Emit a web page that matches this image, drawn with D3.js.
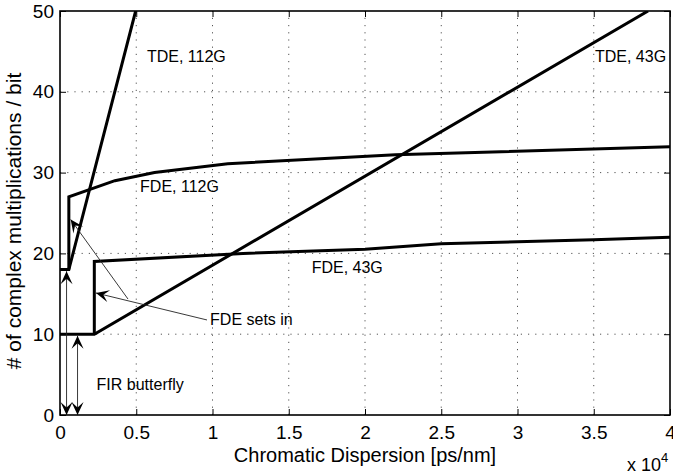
<!DOCTYPE html>
<html>
<head>
<meta charset="utf-8">
<script src="https://cdn.jsdelivr.net/npm/d3@7"></script>
<style>
  body { margin: 0; background: #fff; }
  svg { display: block; font-family: "Liberation Sans", Arial, Helvetica, sans-serif; }
</style>
</head>
<body>
<svg id="chart" width="673" height="476"></svg>
<script>
// Chromatic dispersion (ps/nm) against complex multiplications per bit
const tde112CD   = [0, 580, 4960];
const tde112Mult = [18, 18, 50];

const fde112CD   = [580, 580, 3600, 6200, 11000, 22000, 40000];
const fde112Mult = [18, 27, 29, 30, 31.1, 32.2, 33.2];

const tde43CD    = [0, 2250, 38560];
const tde43Mult  = [10, 10, 50];

const fde43CD    = [2250, 2250, 12000, 20000, 25000, 35000, 40000];
const fde43Mult  = [10, 19, 20, 20.5, 21.2, 21.7, 22];

// Axis ticks
const xTicks = [0, 5000, 10000, 15000, 20000, 25000, 30000, 35000, 40000];
const xTickLabels = ["0", "0.5", "1", "1.5", "2", "2.5", "3", "3.5", "4"];
const yTicks = [0, 10, 20, 30, 40, 50];

// Curve names and where they sit (data units: CD, multiplications)
const labelText = ["TDE, 112G", "TDE, 43G", "FDE, 112G", "FDE, 43G", "FDE sets in", "FIR butterfly"];
const labelCD   = [5700, 35080, 5250, 16500, 9840, 2400];
const labelMult = [43.7, 43.7, 27.6, 17.55, 11.1, 3.1];

// Annotation arrows: start point, end point, double-headed or not
const arrowFrom = [[430, 0], [1150, 0], [4460, 14.35], [9640, 11.76]];
const arrowTo   = [[430, 17.8], [1150, 9.8], [700, 24.2], [2360, 15.1]];
const arrowBoth = [true, true, false, false];

const zip = (a, b) => a.map((v, i) => [v, b[i]]);
const series = [
  zip(tde112CD, tde112Mult),
  zip(fde112CD, fde112Mult),
  zip(tde43CD, tde43Mult),
  zip(fde43CD, fde43Mult)
];

const svg = d3.select("#chart");
const box = { left: 60, right: 670, top: 11, bottom: 415 };

const x = d3.scaleLinear().domain([0, 40000]).range([box.left, box.right]);
const y = d3.scaleLinear().domain([0, 50]).range([box.bottom, box.top]);

// Dotted grid
const grid = svg.append("g").attr("stroke", "#555").attr("stroke-width", 1)
  .attr("stroke-dasharray", "1.2,6");
grid.selectAll("line.gx").data(xTicks.slice(1, -1)).join("line")
  .attr("x1", d => x(d)).attr("x2", d => x(d))
  .attr("y1", box.bottom).attr("y2", box.top);
grid.selectAll("line.gy").data(yTicks.slice(1, -1)).join("line")
  .attr("class", "gy")
  .attr("x1", box.left).attr("x2", box.right)
  .attr("y1", d => y(d)).attr("y2", d => y(d));

// Axes with inward ticks on all four sides
function styleAxis(g, size) {
  g.select(".domain").remove();
  g.selectAll(".tick line").attr("stroke", "#000").attr("stroke-width", 1);
  g.selectAll("text").attr("fill", "#000").attr("font-size", size);
}
svg.append("g").attr("transform", `translate(0,${box.bottom})`)
  .call(d3.axisBottom(x).tickValues(xTicks).tickFormat((d, i) => xTickLabels[i])
    .tickSizeInner(-6).tickSizeOuter(0).tickPadding(11))
  .call(g => styleAxis(g, 19));
svg.append("g").attr("transform", `translate(0,${box.top})`)
  .call(d3.axisTop(x).tickValues(xTicks).tickFormat("")
    .tickSizeInner(-6).tickSizeOuter(0))
  .call(g => styleAxis(g, 19));
svg.append("g").attr("transform", `translate(${box.left},0)`)
  .call(d3.axisLeft(y).tickValues(yTicks).tickSizeInner(-6).tickSizeOuter(0).tickPadding(6))
  .call(g => styleAxis(g, 19));
svg.append("g").attr("transform", `translate(${box.right},0)`)
  .call(d3.axisRight(y).tickValues(yTicks).tickFormat("")
    .tickSizeInner(-6).tickSizeOuter(0))
  .call(g => styleAxis(g, 19));

// Curves
svg.append("clipPath").attr("id", "plotClip").append("rect")
  .attr("x", box.left).attr("y", box.top)
  .attr("width", box.right - box.left).attr("height", box.bottom - box.top);

const line = d3.line().x(d => x(d[0])).y(d => y(d[1]));
svg.append("g").attr("clip-path", "url(#plotClip)")
  .selectAll("path").data(series).join("path")
  .attr("d", line)
  .attr("fill", "none").attr("stroke", "#000")
  .attr("stroke-width", 3).attr("stroke-linejoin", "miter");

// Plot frame
svg.append("rect")
  .attr("x", box.left).attr("y", box.top)
  .attr("width", box.right - box.left).attr("height", box.bottom - box.top)
  .attr("fill", "none").attr("stroke", "#000").attr("stroke-width", 1.6);

// Notched arrowhead marker
const defs = svg.append("defs");
defs.append("marker").attr("id", "head")
  .attr("viewBox", "-14 -7 15 14").attr("refX", 0).attr("refY", 0)
  .attr("markerUnits", "userSpaceOnUse")
  .attr("markerWidth", 15).attr("markerHeight", 14)
  .attr("orient", "auto-start-reverse")
  .append("path").attr("d", "M0,0 L-13,-6 L-7.5,0 L-13,6 Z").attr("fill", "#000");

svg.append("g").selectAll("line").data(arrowFrom).join("line")
  .attr("x1", d => x(d[0])).attr("y1", d => y(d[1]))
  .attr("x2", (d, i) => x(arrowTo[i][0])).attr("y2", (d, i) => y(arrowTo[i][1]))
  .attr("stroke", "#222").attr("stroke-width", 0.9)
  .attr("marker-end", "url(#head)")
  .attr("marker-start", (d, i) => arrowBoth[i] ? "url(#head)" : null);

// Curve labels
svg.append("g").selectAll("text").data(labelText).join("text")
  .attr("x", (d, i) => x(labelCD[i])).attr("y", (d, i) => y(labelMult[i]))
  .attr("font-size", 16).attr("fill", "#000")
  .text(d => d);

// Axis titles
svg.append("text")
  .attr("x", (box.left + box.right) / 2).attr("y", 462)
  .attr("text-anchor", "middle").attr("font-size", 20)
  .text("Chromatic Dispersion [ps/nm]");

svg.append("text")
  .attr("transform", `translate(21,${(box.top + box.bottom) / 2 + 8}) rotate(-90)`)
  .attr("text-anchor", "middle").attr("font-size", 21)
  .text("# of complex multiplications / bit");

// Exponent of the x axis
const expo = svg.append("text").attr("x", 627).attr("y", 471).attr("font-size", 18);
expo.append("tspan").text("x 10");
expo.append("tspan").attr("dy", -9).attr("font-size", 13).text("4");
</script>
</body>
</html>
